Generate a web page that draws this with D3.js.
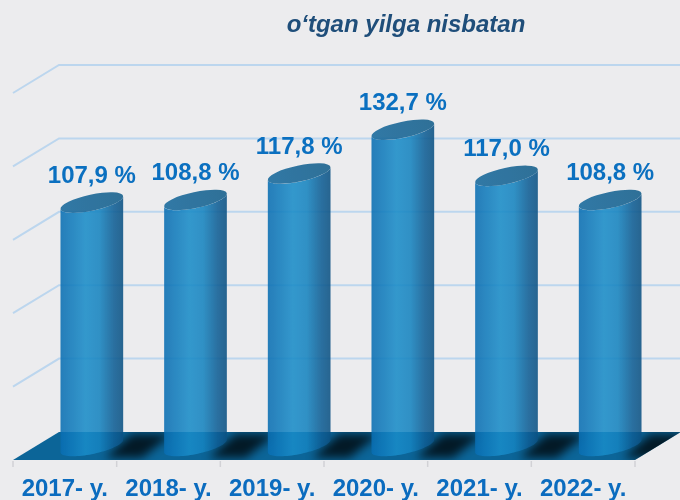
<!DOCTYPE html>
<html>
<head>
<meta charset="utf-8">
<script src="https://cdn.jsdelivr.net/npm/d3@7"></script>
<style>
  html,body{margin:0;padding:0;background:#ececee;}
  svg{display:block;}
  text{font-family:"Liberation Sans",Arial,Helvetica,sans-serif;}
</style>
</head>
<body>
<svg id="chart" width="680" height="500"></svg>
<script>
// ---- data ----
const years  = ['2017- y.','2018- y.','2019- y.','2020- y.','2021- y.','2022- y.'];
const values = [107.9, 108.8, 117.8, 132.7, 117.0, 108.8];
const valueLabels = ['107,9 %','108,8 %','117,8 %','132,7 %','117,0 %','108,8 %'];
const gridTicks = [25, 50, 75, 100, 125, 150];
const title = 'o\u2018tgan yilga nisbatan';

const W = 680, H = 500;
const svg = d3.select('#chart');

// front edge of the floor and depth offset to the back wall
const frontY = 460, depthX = 46, depthY = -28;
const x = d3.scaleBand().domain(years).range([13, 635]).padding(0);
const y = d3.scaleLinear().domain([25, 150]).range([frontY + depthY, 65]); // back wall

// cylinder geometry
const rx = 32, ry = 8, tilt = -12 * Math.PI / 180;
const offX = 27, offY = 14; // cylinder axis sits mid-depth
const cxOf = d => x(d) + x.bandwidth() / 2 + offX;

const defs = svg.append('defs');
const body = defs.append('linearGradient').attr('id', 'body').attr('x1', 0).attr('x2', 1).attr('y1', 0).attr('y2', 0);
[['0%', '#0a6eb2'], ['40%', '#1a8cc8'], ['62%', '#1684c0'], ['85%', '#0f5f96'], ['100%', '#0c5283']]
  .forEach(s => body.append('stop').attr('offset', s[0]).attr('stop-color', s[1]));
const cap = defs.append('linearGradient').attr('id', 'cap').attr('x1', 0).attr('x2', 1).attr('y1', 0).attr('y2', 0);
[['0%', '#17699c'], ['100%', '#155f8c']].forEach(s => cap.append('stop').attr('offset', s[0]).attr('stop-color', s[1]));
defs.append('filter').attr('id', 'blur').attr('x', '-50%').attr('y', '-50%').attr('width', '200%').attr('height', '200%')
  .append('feGaussianBlur').attr('stdDeviation', 5);

const floorPts = [[13, frontY], [635, frontY], [635 + depthX, frontY + depthY], [13 + depthX, frontY + depthY]];
defs.append('clipPath').attr('id', 'floorClip').append('polygon').attr('points', floorPts.join(' '));

// ---- gridlines: back wall + left wall ----
const grid = svg.append('g').attr('stroke', '#bcd6ee').attr('stroke-width', 2).attr('fill', 'none');
gridTicks.slice(1).forEach(t => {
  const yy = y(t);
  grid.append('polyline').attr('points', [[13, yy - depthY], [13 + depthX, yy], [W, yy]].join(' '));
});

// ---- floor ----
svg.append('polygon').attr('points', floorPts.join(' ')).attr('fill', '#0c6598');

// shadows on the floor
const sh = svg.append('g').attr('clip-path', 'url(#floorClip)');
years.forEach(d => {
  const cx = cxOf(d);
  const pts = [[cx + rx * 0.4, frontY - 2], [cx + rx + 18, frontY - 2], [cx + rx + 48, frontY + depthY + 2], [cx + rx + 8, frontY + depthY + 2]];
  sh.append('polygon').attr('points', pts.join(' ')).attr('fill', '#000').attr('opacity', 0.75).attr('filter', 'url(#blur)');
});

// ticks under the floor
const tickXs = years.map(d => x(d)).concat([x.range()[1]]);
svg.append('g').selectAll('line').data(tickXs).join('line')
  .attr('x1', d => d).attr('x2', d => d).attr('y1', frontY + 1).attr('y2', frontY + 7)
  .attr('stroke', '#d2d2d6').attr('stroke-width', 1.5);

// ---- cylinders ----
function ept(cx, cy, t) {
  const c = Math.cos(t), s = Math.sin(t);
  return [cx + rx * c * Math.cos(tilt) - ry * s * Math.sin(tilt),
          cy + rx * c * Math.sin(tilt) + ry * s * Math.cos(tilt)];
}
const t0 = Math.atan(-(ry * Math.sin(tilt)) / (rx * Math.cos(tilt)));
function arc(cx, cy, from, to) {
  const n = 40, out = [];
  for (let i = 0; i <= n; i++) out.push(ept(cx, cy, from + (to - from) * i / n));
  return out;
}
function bodyPath(cx, yt, yb) {
  const pts = [ept(cx, yt, t0 + Math.PI)]
    .concat(arc(cx, yb, t0 + Math.PI, t0))
    .concat(arc(cx, yt, t0, t0 + Math.PI));
  return d3.line()(pts) + 'Z';
}

const baseY = y(25) + offY;
const cyl = svg.append('g').attr('opacity', 0.88);
years.forEach((d, i) => {
  const cx = cxOf(d), yt = y(values[i]) + offY;
  cyl.append('path').attr('d', bodyPath(cx, yt, baseY)).attr('fill', 'url(#body)');
  cyl.append('ellipse').attr('cx', cx).attr('cy', yt).attr('rx', rx).attr('ry', ry)
    .attr('transform', `rotate(${tilt * 180 / Math.PI},${cx},${yt})`).attr('fill', 'url(#cap)');
});

// ---- value labels ----
svg.append('g').selectAll('text').data(years).join('text')
  .attr('x', d => cxOf(d))
  .attr('y', (d, i) => y(values[i]) + offY - 20)
  .attr('text-anchor', 'middle')
  .attr('font-size', 24).attr('font-weight', 'bold').attr('fill', '#0b70c0')
  .text((d, i) => valueLabels[i]);

// ---- category labels ----
svg.append('g').selectAll('text').data(years).join('text')
  .attr('x', d => x(d) + x.bandwidth() / 2)
  .attr('y', 496)
  .attr('text-anchor', 'middle')
  .attr('font-size', 24).attr('font-weight', 'bold').attr('fill', '#0b6cbf')
  .text(d => d);

// ---- title ----
svg.append('text').attr('x', 406).attr('y', 32).attr('text-anchor', 'middle')
  .attr('font-size', 24).attr('font-weight', 'bold').attr('font-style', 'italic')
  .attr('fill', '#1f4e7a').text(title);
</script>
</body>
</html>
